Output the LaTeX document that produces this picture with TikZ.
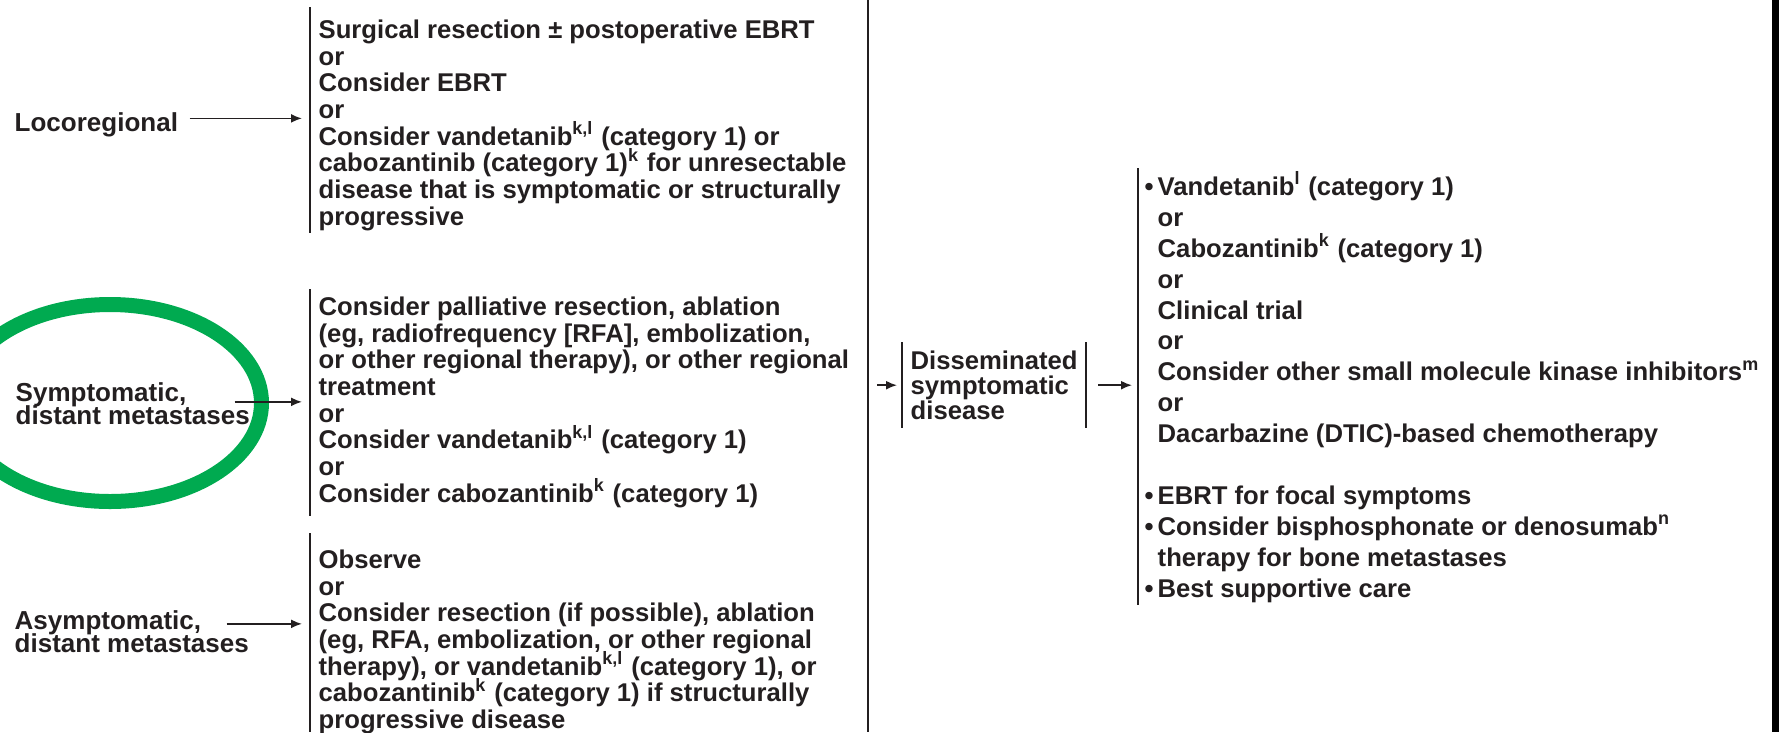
\documentclass[tikz,border=0pt]{standalone}
\usepackage{fontspec}
\setmainfont{Liberation Sans}
\usetikzlibrary{positioning,arrows.meta}
\definecolor{ink}{HTML}{231F20}
\definecolor{ringgreen}{RGB}{0,170,80}
\newcommand{\bl}{\makebox[1.3mm][l]{\textbullet}}
\newcommand{\nb}{\hspace*{1.3mm}}
\newcommand{\tightlines}{\setlength{\lineskiplimit}{-5pt}}

\begin{document}
\begin{tikzpicture}[x=0.1mm,y=-0.1mm,
  txt/.style={inner sep=0pt,align=left,anchor=north west,text=ink,
    font={\bfseries\fontsize{7.3pt}{7.6pt}\selectfont\tightlines}},
  lab/.style={txt,font={\bfseries\fontsize{7.4pt}{6.6pt}\selectfont\tightlines}},
  bar/.style={line width=0.55pt,ink},
  arr/.style={-{Latex[length=1.1mm,width=0.9mm]},line width=0.5pt,ink}]
\useasboundingbox (0,0) rectangle (1779,732);

% highlight ring (drawn first)
\draw[ringgreen,line width=1.5mm] (110,403) ellipse [x radius=15.15mm,y radius=9.85mm];

% left labels
\node[lab] (loco) at (14,112) {Locoregional};
\node[lab] (sympt) at (15,382) {Symptomatic,\\distant metastases};
\node[lab] (asympt) at (14,610) {Asymptomatic,\\distant metastases};

% option blocks
\coordinate (b1top) at (310,7);   \coordinate (b1bot) at (310,233);
\coordinate (b2top) at (310,289); \coordinate (b2bot) at (310,516);
\coordinate (b3top) at (310,533); \coordinate (b3bot) at (310,732);
\draw[bar] (b1top) -- (b1bot);
\draw[bar] (b2top) -- (b2bot);
\draw[bar] (b3top) -- (b3bot);

\node[txt] (opt1) at (318,19) {Surgical resection ± postoperative EBRT\\
or\\
Consider EBRT\\
or\\
Consider vandetanib\textsuperscript{k,l} (category 1) or\\
cabozantinib (category 1)\textsuperscript{k} for unresectable\\
disease that is symptomatic or structurally\\
progressive};

\node[txt] (opt2) at (318,296) {Consider palliative resection, ablation\\
(eg, radiofrequency [RFA], embolization,\\
or other regional therapy), or other regional\\
treatment\\
or\\
Consider vandetanib\textsuperscript{k,l} (category 1)\\
or\\
Consider cabozantinib\textsuperscript{k} (category 1)};

\node[txt] (opt3) at (318,549) {Observe\\
or\\
Consider resection (if possible), ablation\\
(eg, RFA, embolization, or other regional\\
therapy), or vandetanib\textsuperscript{k,l} (category 1), or\\
cabozantinib\textsuperscript{k} (category 1) if structurally\\
progressive disease};

\draw[arr,shorten >=0.8mm] ([xshift=1.1mm,yshift=0.65mm]loco.east) -- ([yshift=0.65mm]loco.east -| b1top);
\draw[arr,shorten >=0.8mm] ([xshift=-1.6mm,yshift=0.2mm]sympt.east) -- ([yshift=0.2mm]sympt.east -| b2top);
\draw[arr,shorten >=0.8mm] ([xshift=-2.3mm,yshift=0.8mm]asympt.east) -- ([yshift=0.8mm]asympt.east -| b3top);

% main divider and right edge
\coordinate (maintop) at (868,0); \coordinate (mainbot) at (868,732);
\draw[line width=0.6pt,ink] (maintop) -- (mainbot);
\fill[black] (1772,0) rectangle (1779,732);

% disseminated disease
\node[txt,anchor=north west,text width=16.7mm,minimum height=8.5mm,inner xsep=0.8mm,
  font={\bfseries\fontsize{7.3pt}{7.1pt}\selectfont\tightlines}] (dbox) at (902,342)
  {Disseminated\\symptomatic\\disease};
\draw[bar] (dbox.north west) -- (dbox.south west);
\draw[bar] (dbox.north east) -- (dbox.south east);

\coordinate (rtop) at (1138,168); \coordinate (rbot) at (1138,605);
\draw[bar] (rtop) -- (rbot);

\node[txt,font={\bfseries\fontsize{7.3pt}{8.8pt}\selectfont\tightlines}] (treat) at (1144,171)
{\bl Vandetanib\textsuperscript{l} (category 1)\\
\nb or\\
\nb Cabozantinib\textsuperscript{k} (category 1)\\
\nb or\\
\nb Clinical trial\\
\nb or\\
\nb Consider other small molecule kinase inhibitors\textsuperscript{m}\\
\nb or\\
\nb Dacarbazine (DTIC)-based chemotherapy\\[8.8pt]
\bl EBRT for focal symptoms\\
\bl Consider bisphosphonate or denosumab\textsuperscript{n}\\
\nb therapy for bone metastases\\
\bl Best supportive care};

\draw[arr,shorten <=0.9mm,shorten >=0.5mm] (dbox.west -| maintop) -- (dbox.west);
\draw[arr,shorten <=1.2mm,shorten >=0.6mm] (dbox.east) -- (dbox.east -| rtop);
\end{tikzpicture}
\end{document}
